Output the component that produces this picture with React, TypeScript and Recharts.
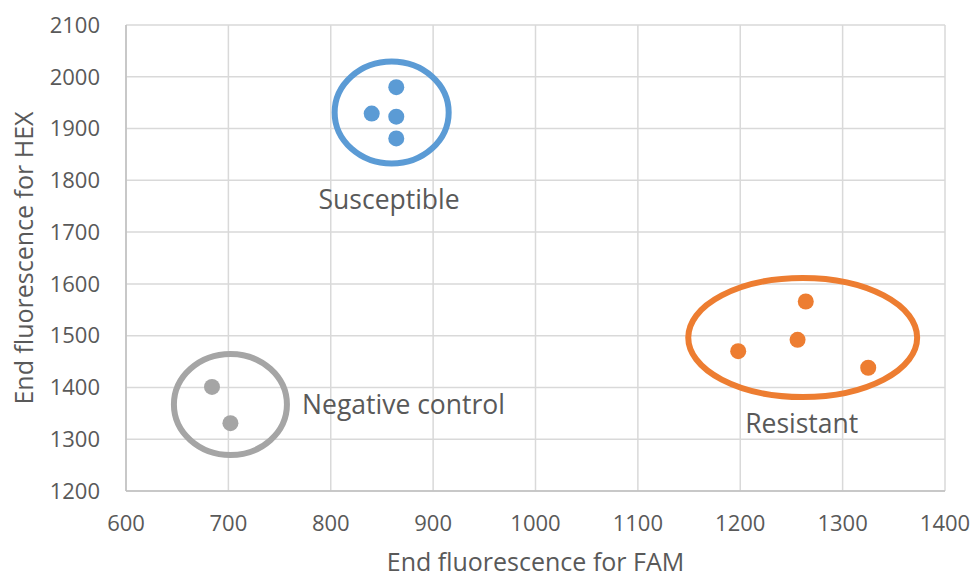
import React from 'react';
import {
  ScatterChart,
  Scatter,
  XAxis,
  YAxis,
  CartesianGrid,
  Label,
} from 'recharts';

const susceptible = [
  { fam: 864, hex: 1980 },
  { fam: 840, hex: 1929 },
  { fam: 864, hex: 1923 },
  { fam: 864, hex: 1881 },
];
const resistant = [
  { fam: 1198, hex: 1470 },
  { fam: 1256, hex: 1492 },
  { fam: 1264, hex: 1566 },
  { fam: 1325, hex: 1438 },
];
const negative = [
  { fam: 684, hex: 1401 },
  { fam: 702, hex: 1331 },
];

const xTicks = [600, 700, 800, 900, 1000, 1100, 1200, 1300, 1400];
const yTicks = [1200, 1300, 1400, 1500, 1600, 1700, 1800, 1900, 2000, 2100];

// group circles (centre + radii in data units)
const groupRings = [
  { fam: 859.5, hex: 1931, rFam: 55.7, rHex: 98.5, color: '#5B9BD5' },
  { fam: 702, hex: 1367, rFam: 55.2, rHex: 97.5, color: '#A5A5A5' },
  { fam: 1261, hex: 1496.5, rFam: 111.8, rHex: 115, color: '#ED7D31' },
];

const groupLabels = [
  { fam: 857, hex: 1764, text: 'Susceptible', anchor: 'middle' },
  { fam: 772, hex: 1368, text: 'Negative control', anchor: 'start' },
  { fam: 1260, hex: 1331, text: 'Resistant', anchor: 'middle' },
];

const W = 974;
const H = 577;
const M = { top: 25, right: 29, bottom: 0, left: 0 };
const Y_W = 126;
const X_H = 86;
const PLOT_W = W - M.right - M.left - Y_W;
const PLOT_H = H - M.top - M.bottom - X_H;
const PX_X = PLOT_W / (xTicks[xTicks.length - 1] - xTicks[0]);
const PX_Y = PLOT_H / (yTicks[yTicks.length - 1] - yTicks[0]);

const FONT = '"Open Sans", sans-serif';
const TEXT = '#595959';

const Ring = (props: any) => {
  const { cx, cy, payload } = props;
  return (
    <ellipse
      cx={cx}
      cy={cy}
      rx={payload.rFam * PX_X}
      ry={payload.rHex * PX_Y}
      fill="none"
      stroke={payload.color}
      strokeWidth={6}
    />
  );
};

const GroupText = (props: any) => {
  const { cx, cy, payload } = props;
  return (
    <text
      x={cx}
      y={cy}
      textAnchor={payload.anchor}
      dominantBaseline="central"
      fontFamily={FONT}
      fontSize={26.5}
      fill={TEXT}
    >
      {payload.text}
    </text>
  );
};

const Dot = (color: string) => (props: any) => (
  <circle cx={props.cx} cy={props.cy} r={8} fill={color} />
);

export default function App() {
  return (
    <div style={{ position: 'absolute', left: 0, top: 0, width: W, height: H, background: '#fff' }}>
      <ScatterChart width={W} height={H} margin={M}>
        <CartesianGrid stroke="#d9d9d9" strokeWidth={1.5} horizontalValues={yTicks} verticalValues={xTicks} />
        <XAxis
          type="number"
          dataKey="fam"
          domain={[600, 1400]}
          ticks={xTicks}
          height={X_H}
          tickLine={false}
          tickSize={0}
          tickMargin={24}
          axisLine={{ stroke: '#bfbfbf', strokeWidth: 1.5 }}
          tick={{ fill: TEXT, fontSize: 22, fontFamily: FONT }}
          allowDataOverflow
        >
          <Label
            content={() => (
              <text x={Y_W + PLOT_W / 2} y={571} textAnchor="middle" fontFamily={FONT} fontSize={25} fill={TEXT}>
                End fluorescence for FAM
              </text>
            )}
          />
        </XAxis>
        <YAxis
          type="number"
          dataKey="hex"
          domain={[1200, 2100]}
          ticks={yTicks}
          width={Y_W}
          tickLine={false}
          tickSize={0}
          tickMargin={26}
          axisLine={{ stroke: '#bfbfbf', strokeWidth: 1.5 }}
          tick={{ fill: TEXT, fontSize: 22, fontFamily: FONT }}
          allowDataOverflow
        >
          <Label
            content={() => (
              <text
                transform={`translate(33, ${M.top + PLOT_H / 2}) rotate(-90)`}
                textAnchor="middle"
                fontFamily={FONT}
                fontSize={25}
                fill={TEXT}
              >
                End fluorescence for HEX
              </text>
            )}
          />
        </YAxis>
        <Scatter data={groupRings} shape={Ring} isAnimationActive={false} />
        <Scatter data={groupLabels} shape={GroupText} isAnimationActive={false} />
        <Scatter name="Susceptible" data={susceptible} shape={Dot('#5B9BD5')} isAnimationActive={false} />
        <Scatter name="Resistant" data={resistant} shape={Dot('#ED7D31')} isAnimationActive={false} />
        <Scatter name="Negative control" data={negative} shape={Dot('#A5A5A5')} isAnimationActive={false} />
      </ScatterChart>
    </div>
  );
}
